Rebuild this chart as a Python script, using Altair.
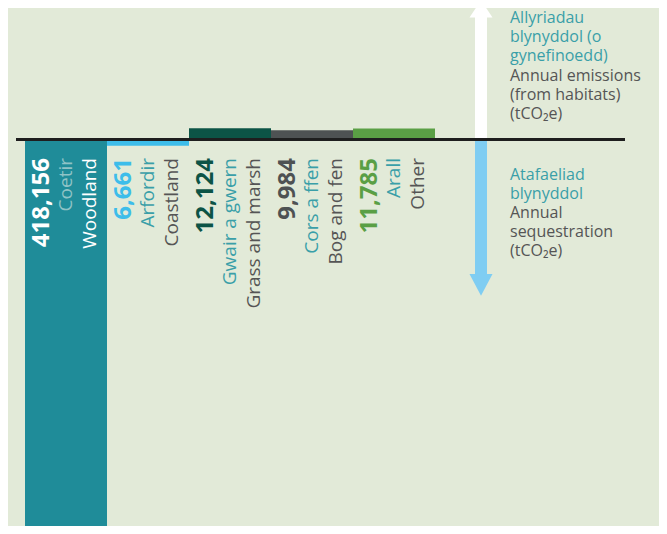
import altair as alt
import pandas as pd

# ---- data ----
categories = ["Woodland", "Coastland", "Grass and marsh", "Bog and fen", "Other"]
welsh = ["Coetir", "Arfordir", "Gwair a gwern", "Cors a ffen", "Arall"]
values = [-418156, -6661, 12124, 9984, 11785]
bar_colors = ["#1f8c99", "#3dbdea", "#0c5446", "#4e5253", "#5a9f45"]
num_colors = ["#ffffff", "#3dbdea", "#0c5446", "#4e5253", "#5a9f45"]
welsh_colors = ["#8fc3c6", "#3a9fa8", "#3a9fa8", "#3a9fa8", "#3a9fa8"]
eng_colors = ["#ffffff", "#555555", "#555555", "#555555", "#555555"]

em_welsh = ["Allyriadau", "blynyddol (o", "gynefinoedd)"]
em_eng = ["Annual emissions", "(from habitats)", "(tCO\u2082e)"]
seq_welsh = ["Atafaeliad", "blynyddol"]
seq_eng = ["Annual", "sequestration", "(tCO\u2082e)"]

df = pd.DataFrame({
    "cat": categories,
    "welsh": welsh,
    "value": values,
    "bar_color": bar_colors,
    "num_color": num_colors,
    "welsh_color": welsh_colors,
    "eng_color": eng_colors,
})
df["num"] = [f"{abs(v):,}" for v in values]

FONT = "Open Sans, Noto Sans, sans-serif"
BG = "#e2eAd8"
W, H = 651, 518

xscale = alt.Scale(domain=categories, range=[17, 427], paddingInner=0, paddingOuter=0)
yscale = alt.Scale(domain=[-413942, 140836], nice=False, zero=False)

base = alt.Chart(df)

bars = base.mark_bar(clip=True).encode(
    x=alt.X("cat:N", scale=xscale, axis=None, sort=categories),
    y=alt.Y("value:Q", scale=yscale, axis=None),
    color=alt.Color("bar_color:N", scale=None),
)

def label_layer(field, color_field, pos, size, weight):
    return base.mark_text(
        angle=270, align="right", baseline="middle",
        font=FONT, fontSize=size, fontWeight=weight,
    ).encode(
        x=alt.X("cat:N", scale=xscale, axis=None, sort=categories, bandPosition=pos),
        y=alt.value(150),
        text=alt.Text(f"{field}:N"),
        color=alt.Color(f"{color_field}:N", scale=None),
    )

nums = label_layer("num", "num_color", 0.21, 24, "bold")
wl = label_layer("welsh", "welsh_color", 0.5, 19, "normal")
en = label_layer("cat", "eng_color", 0.79, 19, "normal")

one = alt.Chart(pd.DataFrame({"a": [0]}))

baseline = one.mark_rule(color="#1e1e1e", strokeWidth=3).encode(
    x=alt.value(8), x2=alt.value(617),
    y=alt.datum(0, scale=yscale),
)

up_shaft = one.mark_rule(color="#ffffff", strokeWidth=12).encode(
    x=alt.value(473), y=alt.datum(0, scale=yscale), y2=alt.value(9),
)
up_head = one.mark_point(
    shape="M-1,0L1,0L0,-1.5Z", filled=True, opacity=1, size=529,
    color="#ffffff", strokeWidth=0,
).encode(x=alt.value(473), y=alt.value(9.5))

down_shaft = one.mark_rule(color="#7fcdf2", strokeWidth=12).encode(
    x=alt.value(473), y=alt.datum(0, scale=yscale), y2=alt.value(267),
)
down_head = one.mark_point(
    shape="M-1,0L1,0L0,1.9Z", filled=True, opacity=1, size=529,
    color="#7fcdf2", strokeWidth=0,
).encode(x=alt.value(473), y=alt.value(266))

def block(lines, color, y0, lh):
    return one.mark_text(
        align="left", baseline="alphabetic", font=FONT, fontSize=16,
        lineHeight=lh, color=color,
    ).encode(x=alt.value(502), y=alt.value(y0), text=alt.value(lines))

t1 = block(em_welsh, "#3a9fa8", 14.5, 19.3)
t2 = block(em_eng, "#555555", 72.5, 19.3)
t3 = block(seq_welsh, "#3a9fa8", 172, 19)
t4 = block(seq_eng, "#555555", 210, 19)

chart = alt.layer(
    bars, up_shaft, up_head, down_shaft, down_head, baseline,
    nums, wl, en, t1, t2, t3, t4,
).properties(
    width=W, height=H, background=BG, padding=0,
    autosize=alt.AutoSizeParams(type="none"),
).configure_view(stroke=None)

chart.save("out.html", embed_options={"renderer": "svg", "actions": False})
